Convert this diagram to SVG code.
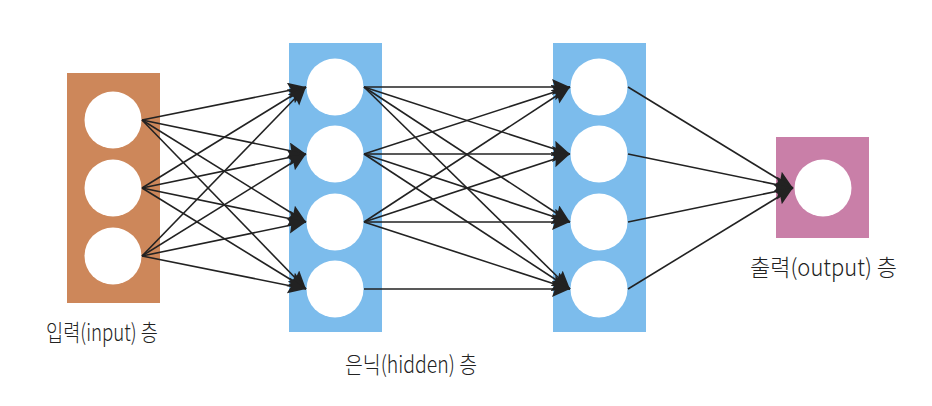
<svg xmlns="http://www.w3.org/2000/svg" width="932" height="406" viewBox="0 0 932 406">
<style>
.in{fill:#CD875A}
.hid{fill:#7CBCEC}
.out{fill:#C97FA8}
.n{fill:#FFFFFF}
.c{stroke:#222222;stroke-width:1.6;fill:none;marker-end:url(#ah)}
.lbl{font-family:"Noto Sans CJK KR","Noto Sans",sans-serif;font-size:23px;font-weight:300;fill:#222222}
</style>
<defs>
<marker id="ah" markerUnits="userSpaceOnUse" markerWidth="20" markerHeight="18" refX="18" refY="8" orient="auto">
<path d="M0,0 L18,8 L0,16 L3,8 Z" fill="#222222"/>
</marker>
</defs>
<rect width="932" height="406" fill="#FFFFFF"/>
<g id="input-layer">
<rect class="in" x="67" y="73" width="93" height="230"/>
<circle class="n" cx="113" cy="120" r="28.5"/>
<circle class="n" cx="113" cy="188" r="28.5"/>
<circle class="n" cx="113" cy="256" r="28.5"/>
<text class="lbl" x="46" y="341" textLength="112" lengthAdjust="spacingAndGlyphs">입력(input) 층</text>
</g>
<g id="hidden-layer-1">
<rect class="hid" x="289" y="43" width="93" height="289"/>
<circle class="n" cx="335" cy="87" r="28.5"/>
<circle class="n" cx="335" cy="154" r="28.5"/>
<circle class="n" cx="335" cy="222" r="28.5"/>
<circle class="n" cx="335" cy="289" r="28.5"/>
</g>
<g id="hidden-layer-2">
<rect class="hid" x="553" y="43" width="93" height="289"/>
<circle class="n" cx="599" cy="87" r="28.5"/>
<circle class="n" cx="599" cy="154" r="28.5"/>
<circle class="n" cx="599" cy="222" r="28.5"/>
<circle class="n" cx="599" cy="289" r="28.5"/>
</g>
<g id="hidden-label">
<text class="lbl" x="345" y="373" textLength="132" lengthAdjust="spacingAndGlyphs">은닉(hidden) 층</text>
</g>
<g id="output-layer">
<rect class="out" x="776" y="137" width="93" height="101"/>
<circle class="n" cx="823" cy="188" r="28.5"/>
<text class="lbl" x="750" y="276" textLength="147" lengthAdjust="spacingAndGlyphs">출력(output) 층</text>
</g>
<g id="connectors">
<line class="c" x1="142" y1="120" x2="306" y2="87"/>
<line class="c" x1="142" y1="120" x2="306" y2="154"/>
<line class="c" x1="142" y1="120" x2="306" y2="222"/>
<line class="c" x1="142" y1="120" x2="306" y2="289"/>
<line class="c" x1="142" y1="188" x2="306" y2="87"/>
<line class="c" x1="142" y1="188" x2="306" y2="154"/>
<line class="c" x1="142" y1="188" x2="306" y2="222"/>
<line class="c" x1="142" y1="188" x2="306" y2="289"/>
<line class="c" x1="142" y1="256" x2="306" y2="87"/>
<line class="c" x1="142" y1="256" x2="306" y2="154"/>
<line class="c" x1="142" y1="256" x2="306" y2="222"/>
<line class="c" x1="142" y1="256" x2="306" y2="289"/>
<line class="c" x1="364" y1="87" x2="570" y2="87"/>
<line class="c" x1="364" y1="87" x2="570" y2="154"/>
<line class="c" x1="364" y1="87" x2="570" y2="222"/>
<line class="c" x1="364" y1="87" x2="570" y2="289"/>
<line class="c" x1="364" y1="154" x2="570" y2="87"/>
<line class="c" x1="364" y1="154" x2="570" y2="154"/>
<line class="c" x1="364" y1="154" x2="570" y2="222"/>
<line class="c" x1="364" y1="154" x2="570" y2="289"/>
<line class="c" x1="364" y1="222" x2="570" y2="87"/>
<line class="c" x1="364" y1="222" x2="570" y2="154"/>
<line class="c" x1="364" y1="222" x2="570" y2="222"/>
<line class="c" x1="364" y1="222" x2="570" y2="289"/>
<line class="c" x1="364" y1="289" x2="570" y2="289"/>
<line class="c" x1="628" y1="87" x2="793" y2="188"/>
<line class="c" x1="628" y1="154" x2="793" y2="188"/>
<line class="c" x1="628" y1="222" x2="793" y2="188"/>
<line class="c" x1="628" y1="289" x2="793" y2="188"/>
</g>
</svg>
